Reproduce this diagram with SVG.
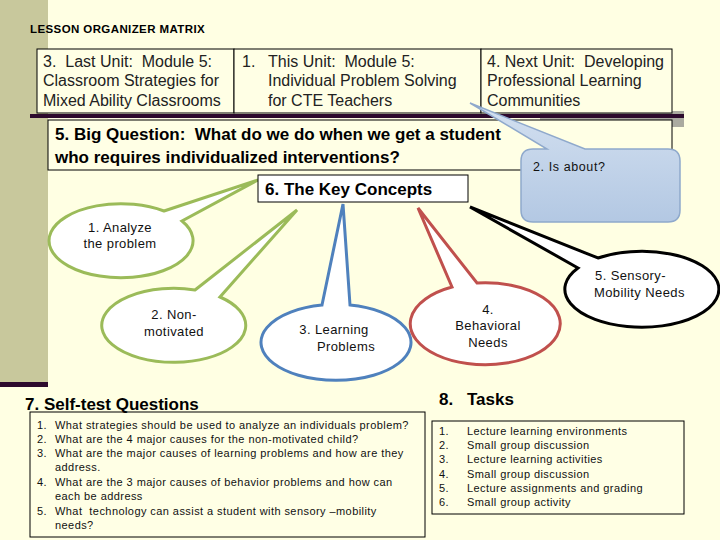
<svg xmlns="http://www.w3.org/2000/svg" width="720" height="540" viewBox="0 0 720 540">
<defs>
<linearGradient id="blueg" x1="0" y1="0" x2="0" y2="1">
<stop offset="0" stop-color="#D3E0F0"/>
<stop offset="1" stop-color="#B3C8E3"/>
</linearGradient>
<style>
text{font-family:"Liberation Sans",Arial,sans-serif;fill:#000;white-space:pre}
.box{fill:#FFFFE5;stroke:#000;stroke-width:1}
.top{font-size:16px;fill:#222}
.hd{font-size:17px;font-weight:bold}
.bub{fill:#FFFFFF;stroke-width:3;stroke-linejoin:miter}
.bt{font-size:13px;text-anchor:middle;fill:#111;letter-spacing:0.4px}
.bl{font-size:13px;fill:#111;letter-spacing:0.4px}
.li{font-size:11px;fill:#111;letter-spacing:0.43px}
</style>
</defs>
<rect x="0" y="0" width="720" height="540" fill="#FFFFE3"/>
<rect x="0" y="0" width="48" height="382" fill="#C8C89C"/>
<rect x="0" y="382" width="48" height="5" fill="#2D0A2D"/>
<rect x="540" y="111" width="144" height="16" fill="#AAAAA0"/>
<rect x="30" y="114" width="654" height="4" fill="#2D0A2D"/>

<text x="30" y="33" style="font-size:11.5px;font-weight:bold;letter-spacing:0.4px">LESSON ORGANIZER MATRIX</text>

<g id="last-unit">
<rect class="box" x="37" y="49" width="197" height="64"/>
<text class="top" x="43" y="67">3.  Last Unit:  Module 5:</text>
<text class="top" x="43" y="86">Classroom Strategies for</text>
<text class="top" x="43" y="106">Mixed Ability Classrooms</text>
</g>
<g id="this-unit">
<rect class="box" x="234" y="49" width="247" height="64"/>
<text class="top" x="242" y="67">1.</text>
<text class="top" x="268" y="67">This Unit:  Module 5:</text>
<text class="top" x="268" y="86">Individual Problem Solving</text>
<text class="top" x="268" y="106">for CTE Teachers</text>
</g>
<g id="next-unit">
<rect class="box" x="481" y="49" width="191" height="64"/>
<text class="top" x="487" y="67">4. Next Unit:  Developing</text>
<text class="top" x="487" y="86">Professional Learning</text>
<text class="top" x="487" y="106">Communities</text>
</g>

<g id="big-question">
<rect class="box" x="48" y="120" width="624" height="50"/>
<text class="hd" x="55" y="140">5. Big Question:  What do we do when we get a student</text>
<text class="hd" x="55" y="163">who requires individualized interventions?</text>
</g>

<g id="is-about">
<path d="M533,149 L547,149 L470,103 L585,149 L668,149 Q680,149 680,161 L680,210 Q680,222 668,222 L533,222 Q521,222 521,210 L521,161 Q521,149 533,149 Z" fill="url(#blueg)" stroke="#8FA9CC" stroke-width="1.5"/>
<text x="533" y="171" style="font-size:12.5px;fill:#111;letter-spacing:0.6px">2. Is about?</text>
</g>

<g id="connectors">
<g id="analyze">
<path class="bub" stroke="#9BBB59" d="M164,211 L258,180 L182,221 A72,37 0 1 1 164,211 Z"/>
<text class="bt" x="120" y="232">1. Analyze</text>
<text class="bt" x="120" y="248">the problem</text>
</g>
<g id="non-motivated">
<path class="bub" stroke="#9BBB59" d="M195,290 L297,210 L220,297 A72,37 0 1 1 195,290 Z"/>
<text class="bt" x="174" y="319">2. Non-</text>
<text class="bt" x="174" y="336">motivated</text>
</g>
<g id="learning">
<path class="bub" stroke="#4F81BD" d="M322,305 L343,204 L350,305 A75,38 0 1 1 322,305 Z"/>
<text class="bt" x="334" y="334">3. Learning</text>
<text class="bt" x="346" y="351">Problems</text>
</g>
<g id="behavioral">
<path class="bub" stroke="#C0504D" d="M452,287 L418,208 L477,283 A75,41 0 1 1 452,287 Z"/>
<text class="bt" x="488" y="314">4.</text>
<text class="bt" x="488" y="330">Behavioral</text>
<text class="bt" x="488" y="347">Needs</text>
</g>
<g id="sensory">
<path class="bub" stroke="#000000" d="M578,268 L470,207 L598,258 A77,38 0 1 1 578,268 Z"/>
<text class="bl" x="595" y="280">5. Sensory-</text>
<text class="bl" x="594" y="297">Mobility Needs</text>
</g>
</g>

<g id="key-concepts">
<rect x="258" y="175" width="210" height="27" fill="#FFFFFF" stroke="#000" stroke-width="1"/>
<text class="hd" x="265" y="195">6. The Key Concepts</text>
</g>

<g id="self-test">
<rect class="box" x="30" y="412" width="395" height="125"/>
<text class="hd" x="25" y="410">7. Self-test Questions</text>
<text class="li" x="37" y="429">1.</text><text class="li" x="55" y="429">What strategies should be used to analyze an individuals problem?</text>
<text class="li" x="37" y="443">2.</text><text class="li" x="55" y="443">What are the 4 major causes for the non-motivated child?</text>
<text class="li" x="37" y="457">3.</text><text class="li" x="55" y="457">What are the major causes of learning problems and how are they</text>
<text class="li" x="55" y="471">address.</text>
<text class="li" x="37" y="486">4.</text><text class="li" x="55" y="486">What are the 3 major causes of behavior problems and how can</text>
<text class="li" x="55" y="500">each be address</text>
<text class="li" x="37" y="515">5.</text><text class="li" x="55" y="515">What  technology can assist a student with sensory –mobility</text>
<text class="li" x="55" y="529">needs?</text>
</g>

<g id="tasks">
<text class="hd" x="439" y="405">8.</text>
<text class="hd" x="467" y="405">Tasks</text>
<rect class="box" x="432" y="421" width="252" height="93"/>
<text class="li" x="439" y="435">1.</text><text class="li" x="467" y="435">Lecture learning environments</text>
<text class="li" x="439" y="449">2.</text><text class="li" x="467" y="449">Small group discussion</text>
<text class="li" x="439" y="463">3.</text><text class="li" x="467" y="463">Lecture learning activities</text>
<text class="li" x="439" y="478">4.</text><text class="li" x="467" y="478">Small group discussion</text>
<text class="li" x="439" y="492">5.</text><text class="li" x="467" y="492">Lecture assignments and grading</text>
<text class="li" x="439" y="506">6.</text><text class="li" x="467" y="506">Small group activity</text>
</g>
</svg>
